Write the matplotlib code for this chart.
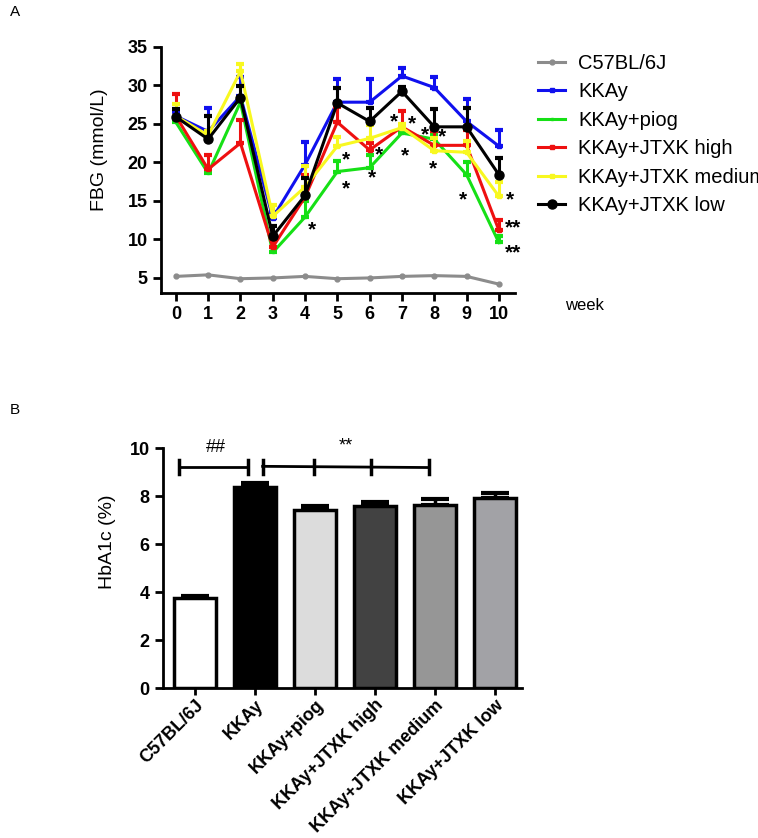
import matplotlib
matplotlib.use('Agg')
import matplotlib.pyplot as plt
import numpy as np

plt.rcParams['font.family'] = ['Liberation Sans', 'DejaVu Sans']

# panel A: fasting blood glucose by week
weeks = list(range(11))
groups = ['C57BL/6J', 'KKAy', 'KKAy+piog', 'KKAy+JTXK high', 'KKAy+JTXK medium', 'KKAy+JTXK low']
c57 = [5.2, 5.4, 4.9, 5.0, 5.2, 4.9, 5.0, 5.2, 5.3, 5.2, 4.2]
kkay = [26.0, 24.0, 28.6, 12.8, 19.7, 27.8, 27.8, 31.2, 29.7, 25.3, 22.1]
kkay_top = [26.5, 27.1, 31.1, 13.5, 22.6, 30.8, 30.8, 32.2, 31.1, 28.2, 24.2]
piog = [25.2, 18.6, 27.8, 8.3, 12.9, 18.8, 19.3, 23.8, 23.0, 18.4, 9.6]
piog_top = [25.6, 19.3, 28.3, 9.0, 15.0, 20.2, 21.0, 24.6, 23.5, 20.0, 10.5]
high = [26.0, 19.1, 22.5, 9.0, 15.5, 25.2, 21.6, 24.6, 22.2, 22.2, 11.2]
high_top = [28.9, 20.9, 25.5, 10.0, 18.3, 27.2, 22.5, 26.6, 24.0, 24.2, 12.5]
medium = [26.0, 23.5, 31.8, 13.0, 16.8, 22.1, 23.1, 24.5, 21.5, 21.3, 15.6]
medium_top = [27.6, 24.0, 32.7, 14.4, 19.5, 23.3, 24.8, 25.0, 23.2, 22.8, 17.4]
low = [25.9, 23.0, 28.4, 10.4, 15.7, 27.7, 25.3, 29.2, 24.6, 24.6, 18.4]
low_top = [26.9, 26.0, 29.9, 11.7, 18.0, 29.7, 27.1, 29.8, 26.9, 27.1, 20.6]

# significance stars: (week, value, text)
stars_x = [4.22, 5.28, 5.28, 6.29, 6.07, 6.74, 7.31, 7.10, 7.70, 8.25, 7.96, 8.89, 10.35, 10.45, 10.45]
stars_y = [11.2, 20.3, 16.6, 20.9, 18.0, 25.2, 25.0, 20.8, 23.6, 23.3, 19.1, 15.1, 15.1, 11.5, 8.3]
stars_t = ['*'] * 13 + ['**', '**']

# panel B: HbA1c
hba1c = [3.75, 8.4, 7.43, 7.6, 7.63, 7.92]
hba1c_top = [3.85, 8.54, 7.6, 7.78, 7.87, 8.13]
bar_colors = ['white', 'black', '#dcdcdc', '#424242', '#969696', '#a2a2a6']

fig = plt.figure(figsize=(7.58, 8.38), dpi=100)

# ---------------- panel A ----------------
ax = fig.add_axes([0.2124, 0.6504, 0.467, 0.2939])
series = [
    (c57, None, '#8c8c8c', 'o', 3.5),
    (kkay, kkay_top, '#1010ee', 's', 3),
    (piog, piog_top, '#16e016', 's', 2),
    (high, high_top, '#ee1010', 's', 3),
    (medium, medium_top, '#f8f820', 's', 3),
    (low, low_top, 'black', 'o', 6.5),
]
handles = []
for (vals, top, col, mk, ms), name in zip(series, groups):
    vals = np.array(vals)
    if top is not None:
        up = np.array(top) - vals
        ax.errorbar(weeks, vals, yerr=[np.zeros_like(up), up], fmt='none',
                    ecolor=col, elinewidth=2.2, capsize=3, capthick=3)
    h, = ax.plot(weeks, vals, color=col, lw=2.2, marker=mk, ms=ms,
                 markeredgecolor=col, label=name)
    handles.append(h)

for sx, sy, st in zip(stars_x, stars_y, stars_t):
    ax.text(sx, sy, st, fontsize=15, fontweight='bold', ha='center', va='center')

ax.set_xlim(-0.46, 10.5)
ax.set_ylim(3.05, 35)
ax.set_xticks(weeks)
ax.set_yticks([5, 10, 15, 20, 25, 30, 35])
for sp in ['top', 'right']:
    ax.spines[sp].set_visible(False)
for sp in ['left', 'bottom']:
    ax.spines[sp].set_linewidth(2)
ax.tick_params(width=2, length=6, labelsize=13)
for lab in ax.get_xticklabels() + ax.get_yticklabels():
    lab.set_fontweight('bold')
ax.set_ylabel('FBG (mmol/L)', fontsize=14)
ax.yaxis.set_label_coords(-0.15, 0.58)
fig.text(565 / 758, 1 - 306 / 838, 'week', fontsize=12, ha='left', va='center')

leg = fig.legend(handles=handles, loc='upper left', bbox_to_anchor=(538 / 758, 1 - 54 / 838),
                 frameon=False, fontsize=14.5, handlelength=1.35, handletextpad=0.65,
                 labelspacing=0.47, borderpad=0, borderaxespad=0)

fig.text(10 / 758, 1 - 12 / 838, 'A', fontsize=11, ha='left', va='center')
fig.text(10 / 758, 1 - 410 / 838, 'B', fontsize=11, ha='left', va='center')

# ---------------- panel B ----------------
bx = fig.add_axes([0.215, 0.1786, 0.4736, 0.2864])
xpos = np.arange(len(groups))
bx.bar(xpos, hba1c, width=0.7, color=bar_colors, edgecolor='black', linewidth=2.5, zorder=2)
up = np.array(hba1c_top) - np.array(hba1c)
bx.errorbar(xpos, hba1c, yerr=[np.zeros_like(up), up], fmt='none', ecolor='black',
            elinewidth=2.5, capsize=10, capthick=3, zorder=1)

# significance brackets
bx.plot([-0.27, 0.88], [9.23, 9.23], color='black', lw=2)
for xx in [-0.27, 0.88]:
    bx.plot([xx, xx], [8.95, 9.5], color='black', lw=2.5)
bx.text(0.36, 10.05, '##', fontsize=13, ha='center', va='center')
bx.plot([1.13, 3.9], [9.25, 9.2], color='black', lw=2)
for xx in [1.13, 1.98, 2.93, 3.9]:
    bx.plot([xx, xx], [8.95, 9.5], color='black', lw=2.5)
bx.text(2.52, 10.1, '**', fontsize=13, ha='center', va='center')

bx.set_xlim(-0.53, 5.45)
bx.set_ylim(0, 10)
bx.set_yticks([0, 2, 4, 6, 8, 10])
bx.set_xticks(xpos)
bx.set_xticklabels(groups, rotation=45, ha='right', rotation_mode='anchor')
for sp in ['top', 'right']:
    bx.spines[sp].set_visible(False)
for sp in ['left', 'bottom']:
    bx.spines[sp].set_linewidth(2)
bx.tick_params(width=2, length=6, labelsize=13)
bx.tick_params(axis='x', length=5, pad=1)
for lab in bx.get_xticklabels() + bx.get_yticklabels():
    lab.set_fontweight('bold')
bx.set_ylabel('HbA1c (%)', fontsize=14)
bx.yaxis.set_label_coords(-0.131, 0.61)

fig.savefig('out.png', dpi=100)
